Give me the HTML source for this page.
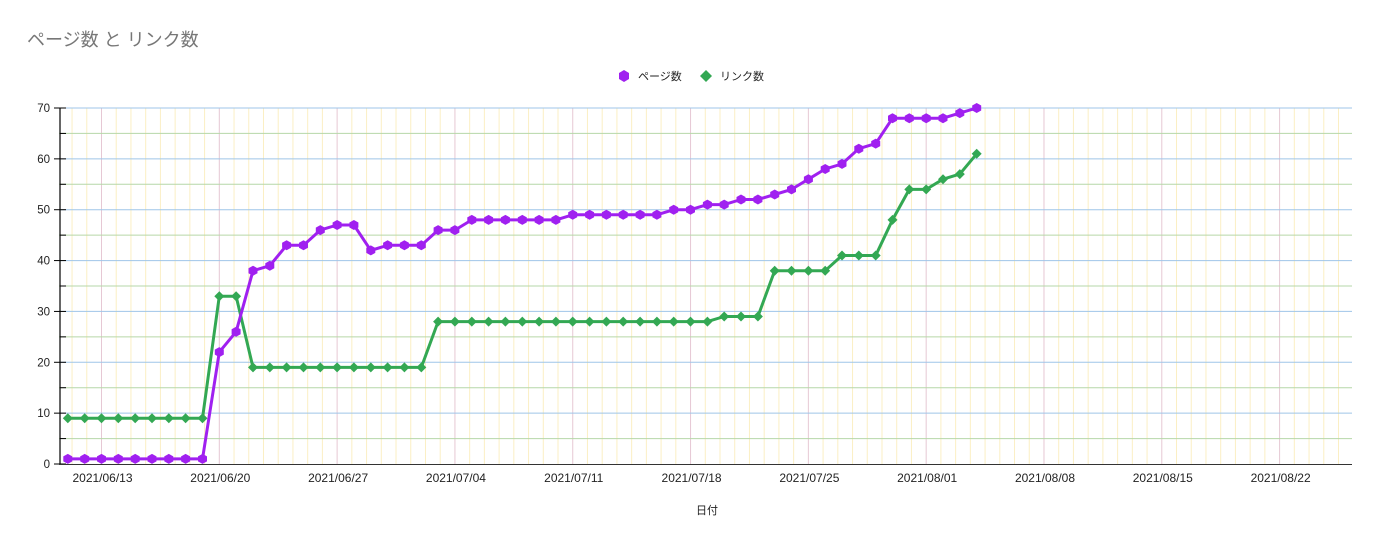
<!DOCTYPE html>
<html><head><meta charset="utf-8">
<style>
body{margin:0;background:#fff;font-family:"Liberation Sans","Noto Sans CJK JP",sans-serif;}
svg text{font-family:"Liberation Sans","Noto Sans CJK JP",sans-serif;}
</style></head>
<body>
<svg id="chart" width="1380" height="544" xmlns="http://www.w3.org/2000/svg">
<text x="27" y="46" font-size="18" fill="#777">ページ数 と リンク数</text>
<g>
<polygon points="624,70 629,73 629,79 624,82 619,79 619,73" fill="#a020f0"/>
<text x="638" y="80" font-size="11" fill="#222">ページ数</text>
<polygon points="706,70 712,76 706,82 700,76" fill="#33a853"/>
<text x="720" y="80" font-size="11" fill="#222">リンク数</text>
</g>
<g id="grid"></g>
<g id="axes"></g>
<g id="series"></g>
<text x="707" y="514" font-size="11" text-anchor="middle" fill="#222">日付</text>
</svg>
<script>
const startDate = "2021-06-11";
const pages = [1,1,1,1,1,1,1,1,1,22,26,38,39,43,43,46,47,47,42,43,43,43,46,46,48,48,48,48,48,48,49,49,49,49,49,49,50,50,51,51,52,52,53,54,56,58,59,62,63,68,68,68,68,69,70];
const links = [9,9,9,9,9,9,9,9,9,33,33,19,19,19,19,19,19,19,19,19,19,19,28,28,28,28,28,28,28,28,28,28,28,28,28,28,28,28,28,29,29,29,38,38,38,38,41,41,41,48,54,54,56,57,61];
const xTickLabels = ["2021/06/13","2021/06/20","2021/06/27","2021/07/04","2021/07/11","2021/07/18","2021/07/25","2021/08/01","2021/08/08","2021/08/15","2021/08/22"];
const yTicks = [0,10,20,30,40,50,60,70];

const NS="http://www.w3.org/2000/svg";
const X0=59,X1=1352,Y0=464,Y1=108,DAY=16.83,REF=101.5;
const yMax=70;
function y(v){return Y0-(v/yMax)*(Y0-Y1);}
function xDay(d){return REF+(d-2)*DAY;}
function mk(tag,attrs,parent){const e=document.createElementNS(NS,tag);for(const k in attrs)e.setAttribute(k,attrs[k]);parent.appendChild(e);return e;}
const grid=document.getElementById('grid'),axes=document.getElementById('axes'),series=document.getElementById('series');

for(let w=-1;w<12;w++){
  const base=REF+w*7*DAY;
  for(let s=0;s<8;s++){
    const gx=base+s*7*DAY/8;
    if(gx<X0+1||gx>X1)continue;
    const l=mk('line',{x1:gx,x2:gx,y1:Y1,y2:Y0,stroke:s===0?'#e6c8d4':'#fbefc4','stroke-width':1},grid);
    
    
  }
}
for(let v=5;v<=yMax;v+=5){
  const l=mk('line',{x1:X0,x2:X1,y1:y(v),y2:y(v),stroke:v%10===0?'#9fc5e8':'#b6d7a8','stroke-width':1},grid);
  
  
}
const ya=mk('line',{x1:X0+1,x2:X0+1,y1:Y1,y2:Y0,stroke:'#000','stroke-width':1.2},axes);


for(let v=0;v<=yMax;v+=5){
  const t=mk('line',{x1:v%10===0?54:X0+1,x2:66,y1:y(v),y2:y(v),stroke:'#000','stroke-width':1},axes);
  
  
}
yTicks.forEach(v=>{
  const t=mk('text',{x:50,y:y(v)+4,'font-size':11.5,'text-anchor':'end',fill:'#222'},axes);
  t.textContent=v;
  
  
});
const xa=mk('line',{x1:X0,x2:X1,y1:Y0+0.5,y2:Y0+0.5,stroke:'#333','stroke-width':1},axes);


xTickLabels.forEach((s,i)=>{
  const t=mk('text',{x:REF+i*7*DAY+1,y:482,'font-size':12,'text-anchor':'middle',fill:'#222'},axes);
  t.textContent=s;
  
  
});
function drawSeries(vals,color,shape,name){
  const pts=vals.map((v,i)=>xDay(i).toFixed(1)+','+y(v).toFixed(1)).join(' ');
  const pl=mk('polyline',{points:pts,fill:'none',stroke:color,'stroke-width':3,'stroke-linejoin':'round'},series);
  
  
  vals.forEach((v,i)=>{
    const cx=xDay(i),cy=y(v);let p;
    if(shape==='hex'){const r=5;p=[[0,-r],[4.5,-2.5],[4.5,2.5],[0,r],[-4.5,2.5],[-4.5,-2.5]];}
    else{const r=5;p=[[0,-r],[r,0],[0,r],[-r,0]];}
    const m=mk('polygon',{points:p.map(q=>(cx+q[0]).toFixed(1)+','+(cy+q[1]).toFixed(1)).join(' '),fill:color},series);
    
    
  });
}
drawSeries(links,'#33a853','diamond','links');
drawSeries(pages,'#a020f0','hex','pages');
</script>
</body></html>
